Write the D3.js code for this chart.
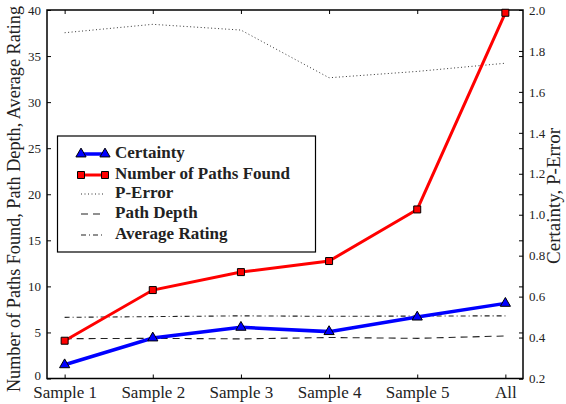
<!DOCTYPE html>
<html><head><meta charset="utf-8">
<script src="https://cdn.jsdelivr.net/npm/d3@7"></script>
<style>
body{margin:0;background:#fff;}
svg{display:block;font-family:"Liberation Serif",serif;}
</style></head>
<body><svg id="c" width="566" height="404"></svg>
<script>
const categories = ["Sample 1","Sample 2","Sample 3","Sample 4","Sample 5","All"];
const pathsFound = [4.1, 9.6, 11.55, 12.75, 18.35, 39.7];
const pathDepth = [4.32, 4.36, 4.3, 4.45, 4.36, 4.62];
const avgRating = [6.64, 6.72, 6.8, 6.75, 6.78, 6.8];
const certainty = [0.267, 0.398, 0.45, 0.429, 0.50, 0.567];
const pError = [1.889, 1.93, 1.902, 1.669, 1.70, 1.74];
const leftTicks = [0,5,10,15,20,25,30,35,40];
const rightTicks = [0.2,0.4,0.6,0.8,1.0,1.2,1.4,1.6,1.8,2.0];

const svg = d3.select("#c");
const L=47, R=523, T=10, B=378.5;
const x = d3.scalePoint().domain(categories).range([L,R]).padding(0.2);
const yL = d3.scaleLinear().domain([0,40]).range([B,T]);
const yR = d3.scaleLinear().domain([0.2,2.0]).range([B,T]);

// axes
const axL = svg.append("g").attr("transform",`translate(${L},0)`)
  .call(d3.axisLeft(yL).tickValues(leftTicks).tickFormat(d3.format("d")).tickSize(-4).tickPadding(6));
const axLm = svg.append("g").attr("transform",`translate(${R},0)`)
  .call(d3.axisRight(yL).tickValues(leftTicks).tickFormat("").tickSize(-4));
const axR = svg.append("g").attr("transform",`translate(${R},0)`)
  .call(d3.axisRight(yR).tickValues(rightTicks).tickFormat(d3.format(".1f")).tickSize(-4).tickPadding(6));
const axB = svg.append("g").attr("transform",`translate(0,${B})`)
  .call(d3.axisBottom(x).tickSize(-4).tickPadding(6));
const axT = svg.append("g").attr("transform",`translate(0,${T})`)
  .call(d3.axisTop(x).tickFormat("").tickSize(-4));
[axL,axLm,axR,axB,axT].forEach(g=>{
  g.selectAll(".domain").remove();
  g.selectAll(".tick line").attr("stroke","#000").attr("stroke-width",1);
  g.selectAll("text").attr("fill","#222").style("font-family","Liberation Serif");
});
axL.selectAll("text").style("font-size","13px");
axL.selectAll(".tick").filter(d=>d===0).select("text").attr("dy","0.05em");
axR.selectAll("text").style("font-size","13px");
axB.selectAll("text").style("font-size","17px").attr("dy","0.8em");

svg.append("rect").attr("x",L).attr("y",T).attr("width",R-L).attr("height",B-T)
  .attr("fill","none").attr("stroke","#000").attr("stroke-width",1.5);

// lines
const lineL = d3.line().x((d,i)=>x(categories[i])).y(d=>yL(d));
const lineR = d3.line().x((d,i)=>x(categories[i])).y(d=>yR(d));

svg.append("path").datum(pError).attr("d",lineR).attr("fill","none")
  .attr("stroke","#333").attr("stroke-width",1).attr("stroke-dasharray","1,2.5");
svg.append("path").datum(pathDepth).attr("d",lineL).attr("fill","none")
  .attr("stroke","#222").attr("stroke-width",1.1).attr("stroke-dasharray","7,5");
svg.append("path").datum(avgRating).attr("d",lineL).attr("fill","none")
  .attr("stroke","#222").attr("stroke-width",1.1).attr("stroke-dasharray","5,3,1,3");

svg.append("path").datum(pathsFound).attr("d",lineL).attr("fill","none")
  .attr("stroke","#ff0000").attr("stroke-width",3);
svg.append("path").datum(certainty).attr("d",lineR).attr("fill","none")
  .attr("stroke","#0000ff").attr("stroke-width",3.5);

const sq = d3.symbol().type(d3.symbolSquare).size(49);
const tri = d3.symbol().type(d3.symbolTriangle).size(45);
svg.append("g").selectAll("path").data(pathsFound).join("path")
  .attr("d",sq).attr("transform",(d,i)=>`translate(${x(categories[i])},${yL(d)})`)
  .attr("fill","#ff0000").attr("stroke","#000").attr("stroke-width",1);
svg.append("g").selectAll("path").data(certainty).join("path")
  .attr("d",tri).attr("transform",(d,i)=>`translate(${x(categories[i])},${yR(d)})`)
  .attr("fill","#0000ff").attr("stroke","#000").attr("stroke-width",1);

// axis labels
svg.append("text").attr("transform",`translate(16,199) rotate(-90)`)
  .attr("text-anchor","middle").attr("dominant-baseline","middle")
  .style("font-size","18.2px").attr("fill","#222")
  .text("Number of Paths Found, Path Depth, Average Rating");
svg.append("text").attr("transform",`translate(556,196) rotate(-90)`)
  .attr("text-anchor","middle").attr("dominant-baseline","middle")
  .style("font-size","19px").attr("fill","#222")
  .text("Certainty, P-Error");

// legend
const lg = svg.append("g");
lg.append("rect").attr("x",57.5).attr("y",136).attr("width",258).attr("height",116)
  .attr("fill","#fff").attr("stroke","#000").attr("stroke-width",1.2);
const legendItems = [
  {name:"Certainty", color:"#0000ff", w:3.5, dash:null, marker:"tri"},
  {name:"Number of Paths Found", color:"#ff0000", w:3, dash:null, marker:"sq"},
  {name:"P-Error", color:"#333", w:1, dash:"1,2.5", marker:null},
  {name:"Path Depth", color:"#222", w:1.1, dash:"7,5", marker:null},
  {name:"Average Rating", color:"#222", w:1.1, dash:"5,3,1,3", marker:null}
];
const rowsY = [154, 175, 194, 214, 235];
legendItems.forEach((it,i)=>{
  const yy = rowsY[i];
  lg.append("line").attr("x1",81).attr("x2",105).attr("y1",yy).attr("y2",yy)
    .attr("stroke",it.color).attr("stroke-width",it.w).attr("stroke-dasharray",it.dash);
  if(it.marker){
    [81,105].forEach(xx=>{
      lg.append("path").attr("d",it.marker==="tri"?tri:sq)
        .attr("transform",`translate(${xx},${yy})`)
        .attr("fill",it.color).attr("stroke","#000").attr("stroke-width",1);
    });
  }
  lg.append("text").attr("x",115).attr("y",yy).attr("dominant-baseline","middle")
    .style("font-size","17px").style("font-weight","bold").attr("fill","#222").text(it.name);
});
</script></body></html>
